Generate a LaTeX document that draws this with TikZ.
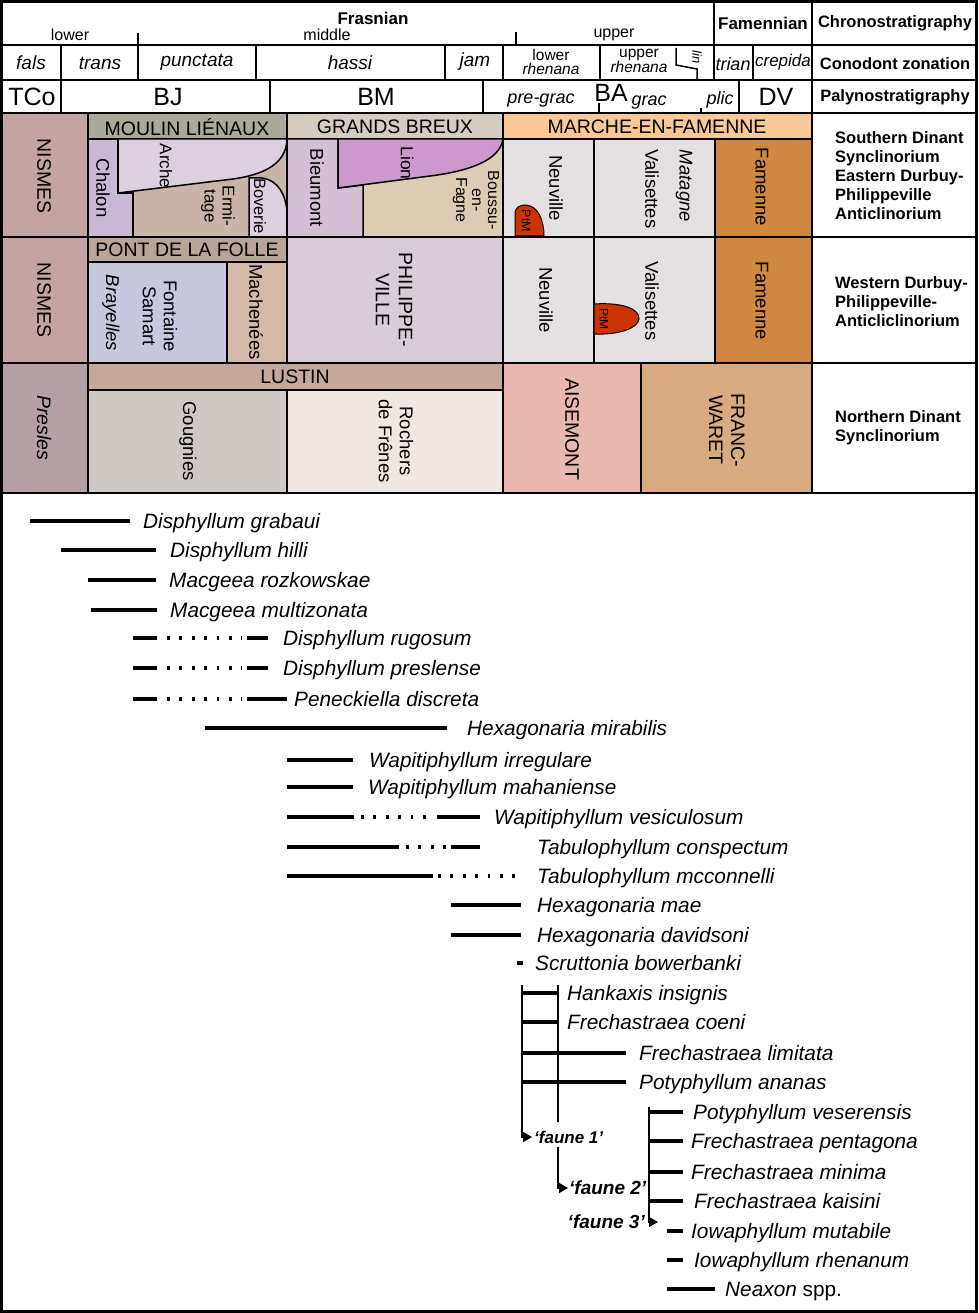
\documentclass[tikz,border=0pt]{standalone}
\usepackage{fontspec}
\setmainfont{Liberation Sans}
\usetikzlibrary{arrows.meta}
\newcommand{\fsz}[1]{\fontsize{#1}{#1}\selectfont}
\definecolor{nismesc}{RGB}{196,163,163}
\definecolor{preslesc}{RGB}{180,160,164}
\definecolor{moulinc}{RGB}{170,168,155}
\definecolor{breuxc}{RGB}{212,204,192}
\definecolor{marchec}{RGB}{250,200,150}
\definecolor{chalonc}{RGB}{200,184,212}
\definecolor{archec}{RGB}{220,208,224}
\definecolor{ermitc}{RGB}{200,180,168}
\definecolor{bieumc}{RGB}{212,192,212}
\definecolor{lionc}{RGB}{204,153,204}
\definecolor{boussuc}{RGB}{220,204,180}
\definecolor{greyc}{RGB}{228,224,226}
\definecolor{famc}{RGB}{208,136,64}
\definecolor{ptmc}{RGB}{204,51,0}
\definecolor{pontc}{RGB}{184,164,152}
\definecolor{fontc}{RGB}{200,200,220}
\definecolor{machc}{RGB}{212,184,168}
\definecolor{philc}{RGB}{216,204,216}
\definecolor{lustinc}{RGB}{196,168,156}
\definecolor{gougc}{RGB}{208,200,196}
\definecolor{rochc}{RGB}{240,230,226}
\definecolor{aisec}{RGB}{232,184,176}
\definecolor{francc}{RGB}{216,170,128}
\begin{document}
\begin{tikzpicture}[x=1pt,y=-1pt,
  bx/.style={draw=black,line width=1.5pt},
  hdr/.style={inner sep=0pt,font=\fsz{19.5}},
  vl/.style={inner sep=0pt,rotate=-90,align=center,font=\fsz{18.5}},
  zn/.style={inner sep=0pt,font=\fsz{19}\itshape},
  pal/.style={inner sep=0pt,font=\fsz{25}},
  bold/.style={inner sep=0pt,font=\fsz{16.5}\bfseries},
  region/.style={inner sep=0pt,anchor=north west,align=left,font=\fontsize{16.5}{19}\selectfont\bfseries},
  sp/.style={inner sep=0pt,anchor=base west,font=\fsz{20.8}\itshape},
  rng/.style={line width=3.2pt},
  gap/.style={line width=3.2pt,dash pattern=on 2.8pt off 9.6pt},
  thinl/.style={line width=1.5pt},
  fa/.style={thinl,-{Triangle[length=9pt,width=10pt]}},
  fauna/.style={inner sep=0pt,font=\fsz{19}\bfseries\itshape}]
\useasboundingbox (0,0) rectangle (978,1313);
\fill[white] (0,0) rectangle (978,1313);

% ---------- Row A : Southern Dinant ----------
\path[bx,fill=nismesc] (2,113) rectangle (88,237);
\path[bx,fill=moulinc] (88,113) rectangle (287,139);
\path[bx,fill=breuxc] (287,113) rectangle (503,139);
\path[bx,fill=marchec] (503,113) rectangle (812,139);
\path[bx,fill=ermitc] (88,139) rectangle (287,237);
\path[bx,fill=chalonc] (88,139) -- (118,139) -- (118,193) -- (133,193) -- (133,237) -- (88,237) -- cycle;
\path[bx,fill=archec] (118,139) -- (287,139) -- (287,141) .. controls (285,162) and (268,174) .. (233,179) -- (118,193) -- cycle;
\path[bx,fill=archec] (249,237) -- (249,178) -- (262,178) .. controls (278,180) and (286,195) .. (287,212) -- (287,237) -- cycle;
\path[bx,fill=boussuc] (287,139) rectangle (503,237);
\path[bx,fill=bieumc] (287,139) -- (338,139) -- (338,188) -- (363,185) -- (363,237) -- (287,237) -- cycle;
\path[bx,fill=lionc] (338,139) -- (503,139) .. controls (500,160) and (470,171) .. (430,176) -- (338,188) -- cycle;
\path[bx,fill=greyc] (503,139) rectangle (594,237);
\path[bx,fill=greyc] (594,139) rectangle (715,237);
\path[bx,fill=famc] (715,139) rectangle (812,237);
\path[draw=black,line width=1pt,fill=ptmc] (515,236) -- (515,214) .. controls (515,207) and (520,205) .. (526,205) .. controls (538,206) and (544,220) .. (544,236) -- cycle;

% ---------- Row B : Western Durbuy ----------
\path[bx,fill=nismesc] (2,237) rectangle (88,363);
\path[bx,fill=pontc] (88,237) rectangle (287,262);
\path[bx,fill=fontc] (88,262) rectangle (227,363);
\path[bx,fill=machc] (227,262) rectangle (287,363);
\path[bx,fill=philc] (287,237) rectangle (503,363);
\path[bx,fill=greyc] (503,237) rectangle (594,363);
\path[bx,fill=greyc] (594,237) rectangle (715,363);
\path[bx,fill=famc] (715,237) rectangle (812,363);
\path[draw=black,line width=1pt,fill=ptmc] (594,304) .. controls (625,302) and (640,310) .. (639,319) .. controls (638,328) and (620,335) .. (594,334) -- cycle;

% ---------- Row C : Northern Dinant ----------
\path[bx,fill=preslesc] (2,363) rectangle (88,493);
\path[bx,fill=lustinc] (88,363) rectangle (503,390);
\path[bx,fill=gougc] (88,390) rectangle (287,493);
\path[bx,fill=rochc] (287,390) rectangle (503,493);
\path[bx,fill=aisec] (503,363) rectangle (641,493);
\path[bx,fill=francc] (641,363) rectangle (812,493);

% ---------- header grid ----------
\draw[bx] (2,45) -- (976,45);
\draw[bx] (2,80) -- (976,80);
\draw[bx] (2,113) -- (976,113);
\draw[bx] (812,1) -- (812,493);
\draw[bx] (812,237) -- (976,237);
\draw[bx] (812,363) -- (976,363);
\draw[bx] (2,493) -- (976,493);
\draw[bx] (714,1) -- (714,80);
\draw[thinl] (138,33) -- (138,45);
\draw[thinl] (516,32) -- (516,45);
\foreach \x in {61,138,256,445,503,600,753} \draw[bx] (\x,45) -- (\x,80);
\draw[thinl] (676,48) -- (676,65) -- (697,69) -- (697,80);
\foreach \x in {61,270,483,739} \draw[bx] (\x,80) -- (\x,113);
\draw[thinl] (599,103) -- (599,113);
\draw[thinl] (701,108) -- (701,113);

% outer frame
\draw[line width=2.8pt] (1.5,1.5) rectangle (976.5,1311.5);

% ---------- header text ----------
\node[inner sep=0pt,font=\fsz{17}\bfseries] (frasnian) at (373,18) {Frasnian};
\node[inner sep=0pt,font=\fsz{16}] (lowerF) at (70,35) {lower};
\node[inner sep=0pt,font=\fsz{16}] (middleF) at (327,35) {middle};
\node[inner sep=0pt,font=\fsz{16}] (upperF) at (614,35) {upper};
\node[inner sep=0pt,font=\fsz{17}\bfseries] (famennian) at (763,23) {Famennian};
\node[bold] (chrono) at (895,23) {Chronostratigraphy};

\node[zn] (fals) at (31,63) {fals};
\node[zn] (trans) at (100,63) {trans};
\node[zn] (punctata) at (197,62) {punctata};
\node[zn] (hassi) at (350,63) {hassi};
\node[zn] (jam) at (475,62) {jam};
\node[inner sep=0pt,align=center,font=\fontsize{15.5}{14}\selectfont] (lrhen) at (551,62) {lower\\\itshape rhenana};
\node[inner sep=0pt,align=center,font=\fontsize{15.5}{14}\selectfont] (urhen) at (639,61) {upper\\\itshape rhenana};
\node[inner sep=0pt,rotate=-90,font=\fsz{13}\itshape] (lin) at (697,57) {lin};
\node[inner sep=0pt,font=\fsz{18}\itshape] (trian) at (733,64) {trian};
\node[inner sep=0pt,font=\fsz{17}\itshape] (crepida) at (783,62) {crepida};
\node[bold] (conod) at (895,64) {Conodont zonation};

\node[pal] (TCo) at (32,97) {TCo};
\node[pal] (BJ) at (168,97) {BJ};
\node[pal] (BM) at (376,97) {BM};
\node[inner sep=0pt,font=\fsz{18}\itshape] (pregrac) at (541,101) {pre-grac};
\node[pal] (BA) at (611,93) {BA};
\node[inner sep=0pt,font=\fsz{18}\itshape] (grac) at (649,103) {grac};
\node[inner sep=0pt,font=\fsz{18}\itshape] (plic) at (720,100) {plic};
\node[pal] (DV) at (776,97) {DV};
\node[bold] (palyno) at (895,97) {Palynostratigraphy};

% ---------- formation text ----------
\node[hdr] (moulin) at (187,127) {MOULIN LIÉNAUX};
\node[hdr] (grands) at (395,127) {GRANDS BREUX};
\node[hdr] (marche) at (657,127) {MARCHE-EN-FAMENNE};
\node[vl,font=\fsz{19.5}] (nismesA) at (44,176) {NISMES};
\node[vl] (chalon) at (103,188) {Chalon};
\node[vl,font=\fsz{17}] (arche) at (166,166) {Arche};
\node[vl,font=\fontsize{17}{18}\selectfont] (ermitage) at (218,206) {Ermi-\\tage};
\node[vl,font=\fsz{16.5}] (boverie) at (260,206) {Boverie};
\node[vl] (bieumont) at (317,188) {Bieumont};
\node[vl,font=\fsz{17.5}] (lion) at (407,163) {Lion};
\node[vl,font=\fontsize{16}{16}\selectfont] (boussu) at (476,200) {Boussu-\\en-\\Fagne};
\node[vl] (neuvA) at (556,188) {Neuville};
\node[vl] (valiA) at (652,189) {Valisettes};
\node[vl,font=\fsz{18.5}\itshape] (matagne) at (684,186) {Matagne};
\node[vl] (famA) at (762,187) {Famenne};
\node[inner sep=0pt,rotate=-90,font=\fsz{12.5}] (ptmA) at (526,221) {PtM};
\node[region] (sdinant) at (835,131) {Southern Dinant\\Synclinorium\\Eastern Durbuy-\\Philippeville\\Anticlinorium};

\node[hdr] (pont) at (187,250) {PONT DE LA FOLLE};
\node[vl,font=\fsz{19.5}] (nismesB) at (44,300) {NISMES};
\node[vl,font=\fsz{18.5}\itshape] (brayelles) at (111,313) {Brayelles};
\node[vl,font=\fontsize{18.5}{21}\selectfont] (fontaine) at (160,316) {Fontaine\\Samart};
\node[vl] (machenees) at (256,312) {Machenées};
\node[vl,font=\fontsize{19.5}{23}\selectfont] (philippe) at (394,300) {PHILIPPE-\\VILLE};
\node[vl] (neuvB) at (546,300) {Neuville};
\node[vl] (valiB) at (652,301) {Valisettes};
\node[vl] (famB) at (762,301) {Famenne};
\node[inner sep=0pt,rotate=-90,font=\fsz{12}] (ptmB) at (604,319) {PtM};
\node[region] (wdurbuy) at (835,276) {Western Durbuy-\\Philippeville-\\Anticliclinorium};

\node[vl,font=\fsz{19.5}\itshape] (presles) at (44,428) {Presles};
\node[hdr] (lustin) at (295,377) {LUSTIN};
\node[vl] (gougnies) at (188,441) {Gougnies};
\node[vl,font=\fontsize{18.5}{21}\selectfont] (rochers) at (396,441) {Rochers\\de Frênes};
\node[vl,font=\fsz{19.5}] (aisemont) at (572,429) {AISEMONT};
\node[vl,font=\fontsize{19.5}{22}\selectfont] (francwaret) at (727,430) {FRANC-\\WARET};
\node[region] (ndinant) at (835,410) {Northern Dinant\\Synclinorium};

% ---------- species ranges ----------
\draw[rng] (30,521) -- (130,521);   \node[sp] (s1) at (143,528) {Disphyllum grabaui};
\draw[rng] (61,550) -- (156,550);   \node[sp] (s2) at (170,557) {Disphyllum hilli};
\draw[rng] (88,580) -- (156,580);   \node[sp] (s3) at (169,587) {Macgeea rozkowskae};
\draw[rng] (91,610) -- (157,610);   \node[sp] (s4) at (170,617) {Macgeea multizonata};
\draw[rng] (133,638) -- (157,638); \draw[gap] (167,638) -- (242,638); \draw[rng] (247,638) -- (268,638);
\node[sp] (s5) at (283,645) {Disphyllum rugosum};
\draw[rng] (133,668) -- (157,668); \draw[gap] (167,668) -- (242,668); \draw[rng] (247,668) -- (268,668);
\node[sp] (s6) at (283,675) {Disphyllum preslense};
\draw[rng] (133,699) -- (157,699); \draw[gap] (167,699) -- (242,699); \draw[rng] (247,699) -- (287,699);
\node[sp] (s7) at (294,706) {Peneckiella discreta};
\draw[rng] (205,728) -- (447,728);  \node[sp] (s8) at (467,735) {Hexagonaria mirabilis};
\draw[rng] (287,760) -- (353,760);  \node[sp] (s9) at (369,767) {Wapitiphyllum irregulare};
\draw[rng] (287,787) -- (353,787);  \node[sp] (s10) at (368,794) {Wapitiphyllum mahaniense};
\draw[rng] (287,817) -- (354,817); \draw[gap] (361,817) -- (428,817); \draw[rng] (437,817) -- (480,817);
\node[sp] (s11) at (494,824) {Wapitiphyllum vesiculosum};
\draw[rng] (287,847) -- (399,847); \draw[gap] (406,847) -- (446,847); \draw[rng] (451,847) -- (480,847);
\node[sp] (s12) at (537,854) {Tabulophyllum conspectum};
\draw[rng] (287,876) -- (433,876); \draw[gap] (438,876) -- (523,876);
\node[sp] (s13) at (537,883) {Tabulophyllum mcconnelli};
\draw[rng] (451,905) -- (521,905);  \node[sp] (s14) at (537,912) {Hexagonaria mae};
\draw[rng] (451,935) -- (521,935);  \node[sp] (s15) at (537,942) {Hexagonaria davidsoni};
\draw[rng] (517,963) -- (523,963);  \node[sp] (s16) at (535,970) {Scruttonia bowerbanki};

% faune 1 / 2
\draw[rng] (522,993) -- (558,993);   \node[sp] (s17) at (567,1000) {Hankaxis insignis};
\draw[rng] (522,1022) -- (558,1022); \node[sp] (s18) at (567,1029) {Frechastraea coeni};
\draw[rng] (522,1053) -- (626,1053); \node[sp] (s19) at (639,1060) {Frechastraea limitata};
\draw[rng] (522,1082) -- (626,1082); \node[sp] (s20) at (639,1089) {Potyphyllum ananas};
\coordinate (f1tip) at (532,1137);
\draw[fa] (522,985) |- (f1tip);
\node[inner sep=0pt,anchor=west,font=\fsz{17}\bfseries\itshape] (f1) at (534,1137) {‘faune 1’};
\draw[thinl] (558,985) -- (558,1122);
\coordinate (f2tip) at (568,1188);
\draw[fa] (558,1147) |- (f2tip);
\node[fauna,anchor=west] (f2) at (569,1188) {‘faune 2’};

% faune 3
\draw[rng] (649,1112) -- (683,1112); \node[sp] (s21) at (693,1119) {Potyphyllum veserensis};
\draw[rng] (649,1141) -- (683,1141); \node[sp] (s22) at (691,1148) {Frechastraea pentagona};
\draw[rng] (649,1172) -- (683,1172); \node[sp] (s23) at (691,1179) {Frechastraea minima};
\draw[rng] (649,1201) -- (683,1201); \node[sp] (s24) at (694,1208) {Frechastraea kaisini};
\coordinate (f3tip) at (658,1222);
\draw[fa] (649,1107) |- (f3tip);
\node[fauna,anchor=east] (f3) at (645,1222) {‘faune 3’};
\draw[rng] (667,1231) -- (683,1231); \node[sp] (s25) at (691,1238) {Iowaphyllum mutabile};
\draw[rng] (667,1260) -- (683,1260); \node[sp] (s26) at (694,1267) {Iowaphyllum rhenanum};
\draw[rng] (667,1289) -- (715,1289); \node[sp] (s27) at (725,1296) {Neaxon \upshape spp.};
\end{tikzpicture}
\end{document}
